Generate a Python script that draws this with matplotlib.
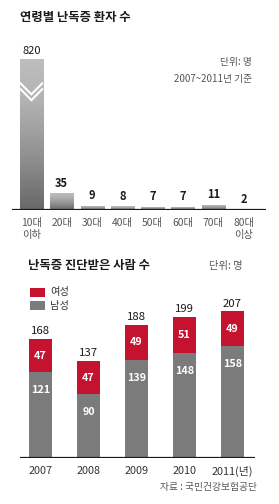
import numpy as np
import matplotlib
matplotlib.use("Agg")
import matplotlib.pyplot as plt
from matplotlib.colors import LinearSegmentedColormap
from matplotlib.patches import Rectangle

plt.rcParams['font.family'] = ['Noto Sans CJK KR', 'DejaVu Sans']

# ---------------- data ----------------
age_groups = ["10대\n이하", "20대", "30대", "40대", "50대", "60대", "70대", "80대\n이상"]
age_patients = [820, 35, 9, 8, 7, 7, 11, 2]
age_break_cap = 310          # visible height of the broken (truncated) bar

years = ["2007", "2008", "2009", "2010", "2011(년)"]
female = [47, 47, 49, 51, 49]
male = [121, 90, 139, 148, 158]
totals = [168, 137, 188, 199, 207]

W, H = 279, 504
fig = plt.figure(figsize=(W / 100, H / 100), dpi=100)
fig.patch.set_facecolor("white")


def fx(x):
    return x / W


def fy(y):
    return 1 - y / H


def add_ax(left, right, top, bottom):
    return fig.add_axes([fx(left), fy(bottom), (right - left) / W, (bottom - top) / H])


# ---------------- top chart ----------------
RED = "#c4122f"
GRAY = "#7b7b7b"
TXT_GRAY = "#555555"

fig.text(fx(20), fy(18), "연령별 난독증 환자 수", fontsize=8.9, fontweight="bold",
         ha="left", va="center", color="#1a1a1a")
fig.text(fx(252), fy(62), "단위: 명", fontsize=7, ha="right", va="center", color=TXT_GRAY)
fig.text(fx(252), fy(79), "2007~2011년 기준", fontsize=7, ha="right", va="center", color=TXT_GRAY)

ax1 = add_ax(12, 266, 40, 210)
px_per_unit1 = 0.486
ax1.set_ylim(0, 170 / px_per_unit1)
x1 = np.arange(len(age_groups))
ax1.set_xlim(-0.64, len(age_groups) - 1 + 0.74)
bw1 = 0.76

cmap = LinearSegmentedColormap.from_list(
    "g", [(0, "#686868"), (0.4, "#959595"), (0.73, "#b3b3b3"), (1, "#bebebe")])
grad = np.linspace(0, 1, 256).reshape(-1, 1)

for i, v in enumerate(age_patients):
    h = min(v, age_break_cap)
    x0, x1_ = x1[i] - bw1 / 2, x1[i] + bw1 / 2
    im = ax1.imshow(grad, cmap=cmap, aspect="auto", origin="lower",
                    extent=[x0, x1_, 0, h], zorder=2, vmin=0, vmax=1)
    rect = Rectangle((x0, 0), bw1, h, transform=ax1.transData, facecolor="none", edgecolor="none")
    ax1.add_patch(rect)
    im.set_clip_path(rect)
    bold = "normal" if v > age_break_cap else "bold"
    ax1.annotate(f"{v}", (x1[i], h), xytext=(0, 2.5), textcoords="offset points",
                 ha="center", va="bottom", fontsize=8, fontweight=bold, color="#1a1a1a",
                 annotation_clip=False)
    if v > age_break_cap:
        # break marker (double chevron)
        for off in (48, 60):
            top_y = h - off
            apex_y = h - off - 24
            ax1.plot([x0, x1[i], x1_], [top_y, apex_y, top_y], color="white",
                     lw=1.5, zorder=3, solid_joinstyle="miter", solid_capstyle="butt")

ax1.axhline(0, color="#1a1a1a", lw=1.6, zorder=4)
ax1.set_xticks([])
ax1.set_yticks([])
for s in ax1.spines.values():
    s.set_visible(False)
ax1.patch.set_alpha(0)
for i, lab in enumerate(age_groups):
    ax1.annotate(lab, (x1[i], 0), xytext=(0, -5.5), textcoords="offset points",
                 ha="center", va="top", fontsize=7.4, color=TXT_GRAY, linespacing=1.25,
                 annotation_clip=False)

# ---------------- bottom chart ----------------
fig.text(fx(28), fy(266), "난독증 진단받은 사람 수", fontsize=8.9, fontweight="bold",
         ha="left", va="center", color="#1a1a1a")
fig.text(fx(243), fy(266), "단위: 명", fontsize=7.4, ha="right", va="center", color=TXT_GRAY)

# legend
fig.patches.append(Rectangle((fx(30), fy(297)), 15 / W, 9 / H, transform=fig.transFigure,
                             facecolor=RED, edgecolor="none"))
fig.patches.append(Rectangle((fx(30), fy(310)), 15 / W, 9 / H, transform=fig.transFigure,
                             facecolor=GRAY, edgecolor="none"))
fig.text(fx(50), fy(292), "여성", fontsize=7.4, ha="left", va="center", color="#333333")
fig.text(fx(50), fy(305.5), "남성", fontsize=7.4, ha="left", va="center", color="#333333")

ax2 = add_ax(20, 255, 290, 458)
px_per_unit2 = 0.708
ax2.set_ylim(0, 168 / px_per_unit2)
x2 = np.arange(len(years))
ax2.set_xlim(-0.427, len(years) - 1 + 0.47)
bw2 = 0.48

ax2.bar(x2, male, bw2, color=GRAY, zorder=2)
ax2.bar(x2, female, bw2, bottom=male, color=RED, zorder=2)

for i in range(len(years)):
    ax2.annotate(f"{male[i]}", (x2[i], male[i]), xytext=(0, -13), textcoords="offset points",
                 ha="center", va="center", fontsize=7.8, fontweight="bold", color="white")
    ax2.text(x2[i], male[i] + female[i] / 2, f"{female[i]}", ha="center", va="center",
             fontsize=7.8, fontweight="bold", color="white")
    ax2.annotate(f"{totals[i]}", (x2[i], male[i] + female[i]), xytext=(0, 2),
                 textcoords="offset points", ha="center", va="bottom", fontsize=8.2,
                 color="#1a1a1a", annotation_clip=False)

ax2.axhline(0, color="#1a1a1a", lw=1.6, zorder=4)
ax2.set_xticks([])
ax2.set_yticks([])
for s in ax2.spines.values():
    s.set_visible(False)
ax2.patch.set_alpha(0)
for i, lab in enumerate(years):
    ax2.annotate(lab, (x2[i], 0), xytext=(0, -5.5), textcoords="offset points",
                 ha="center", va="top", fontsize=7.8, color="#333333", annotation_clip=False)

fig.text(fx(257), fy(487), "자료 : 국민건강보험공단", fontsize=7, ha="right", va="center",
         color=TXT_GRAY)

fig.savefig("out.png", dpi=100, facecolor="white")
